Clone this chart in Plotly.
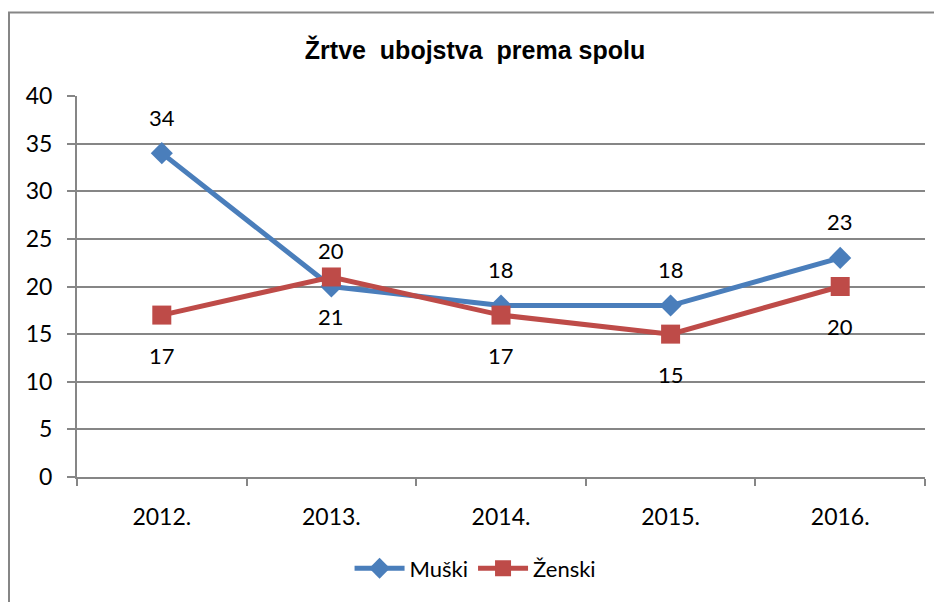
import plotly.graph_objects as go

categories = ["2012.", "2013.", "2014.", "2015.", "2016."]
muski = [34, 20, 18, 18, 23]
zenski = [17, 21, 17, 15, 20]
title_text = "Žrtve  ubojstva  prema spolu"
y_ticks = [0, 5, 10, 15, 20, 25, 30, 35, 40]

BLUE = "#4A7EBB"
RED = "#BE4B48"
GRID = "#868686"
FONT = "Lato, Calibri, Carlito, sans-serif"

W, H = 934, 594          # page body margin of 8px shifts the figure
L, T = 69, 88            # plot area left/top inside the figure
PW, PH = 848, 381        # plot area size

fig = go.Figure()
fig.add_trace(go.Scatter(x=categories, y=muski, name="Muški", mode="lines+markers",
                         line=dict(color=BLUE, width=5),
                         marker=dict(symbol="diamond", size=17, color=BLUE)))
fig.add_trace(go.Scatter(x=categories, y=zenski, name="Ženski", mode="lines+markers",
                         line=dict(color=RED, width=5),
                         marker=dict(symbol="square", size=19, color=RED)))

ann = []
for i, v in enumerate(muski):
    ann.append(dict(x=i, y=v, xref="x", yref="y", text=str(v), showarrow=False, yshift=36,
                    font=dict(size=22, color="black", family=FONT)))
for i, v in enumerate(zenski):
    ann.append(dict(x=i, y=v, xref="x", yref="y", text=str(v), showarrow=False, yshift=-40,
                    font=dict(size=22, color="black", family=FONT)))

fig.update_layout(
    width=W, height=H,
    margin=dict(l=L, r=W - L - PW, t=T, b=H - T - PH),
    paper_bgcolor="white", plot_bgcolor="white",
    title=dict(text="<b>" + title_text + "</b>", x=0.5, xanchor="center",
               y=1 - 42 / H, yanchor="middle",
               font=dict(family="Liberation Sans Narrow, Arial Narrow, Liberation Sans, sans-serif",
                         size=25, color="black")),
    xaxis=dict(type="category", showgrid=False, ticks="outside", tickson="boundaries",
               ticklen=7, tickcolor=GRID, tickwidth=2, showline=True, linecolor=GRID, linewidth=2,
               ticklabelstandoff=18,
               tickfont=dict(family=FONT, size=23, color="black"), range=[-0.5, 4.5]),
    yaxis=dict(range=[0, 40], tickvals=y_ticks, showgrid=True, gridcolor=GRID, gridwidth=2,
               ticks="outside", ticklen=8, tickcolor=GRID, tickwidth=2, showline=True,
               linecolor=GRID, linewidth=2, zeroline=False, ticklabelstandoff=10,
               tickfont=dict(family=FONT, size=23, color="black")),
    legend=dict(orientation="h", x=0.47, xanchor="center", y=-0.24, yanchor="middle",
                font=dict(family=FONT, size=22, color="black"), itemwidth=50),
    annotations=ann,
    showlegend=True,
)
fig.add_shape(type="rect", xref="paper", yref="paper",
              x0=(1 - L) / PW, x1=(W + 30 - L) / PW,
              y0=(T + PH - (H + 40)) / PH, y1=(T + PH - 4.5) / PH,
              line=dict(color=GRID, width=2), fillcolor="rgba(0,0,0,0)", layer="below")

fig.write_html("out.html")
